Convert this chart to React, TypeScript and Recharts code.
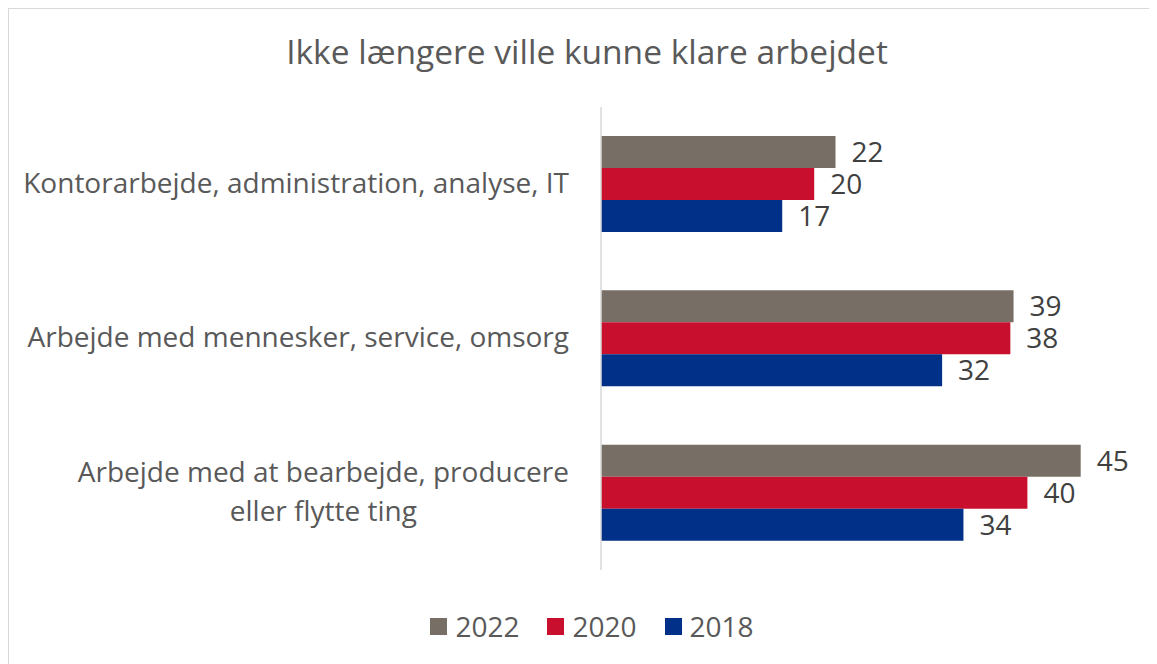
import React, { useLayoutEffect, useRef, useState } from "react";
import { Bar, BarChart, LabelList, XAxis, YAxis } from "recharts";

// categories, top to bottom ("\n" marks where Excel wrapped the label)
const categories = [
	"Kontorarbejde, administration, analyse, IT",
	"Arbejde med mennesker, service, omsorg",
	"Arbejde med at bearbejde, producere\neller flytte ting",
];

// bar lengths; labels show them rounded
const v2022 = [22, 38.7, 45];
const v2020 = [20, 38.4, 40];
const v2018 = [17, 32, 34];

const series = [
	{ key: "2022", values: v2022, color: "#776f65" },
	{ key: "2020", values: v2020, color: "#c8102e" },
	{ key: "2018", values: v2018, color: "#003087" },
];

const data = categories.map((name, i) => {
	const row: any = { name };
	series.forEach((s) => (row[s.key] = s.values[i]));
	return row;
});

const FONT = "'Open Sans', sans-serif";
const TEXT = "#595959";
const FS = 28;

// category label: right aligned block, wrapped lines centred in the block
const CategoryTick = (props: any) => {
	const { x, y, payload } = props;
	const lines: string[] = String(payload.value).split("\n");
	const ref = useRef<SVGTextElement>(null);
	const [w, setW] = useState(0);
	useLayoutEffect(() => {
		if (ref.current) setW(ref.current.getComputedTextLength());
	}, []);
	const lh = 39;
	if (lines.length === 1) {
		return (
			<text x={x} y={y} dy="0.3em" textAnchor="end" fill={TEXT} fontSize={FS} fontFamily={FONT}>
				{lines[0]}
			</text>
		);
	}
	const top = y - ((lines.length - 1) * lh) / 2;
	return (
		<g>
			{lines.map((l, i) => (
				<text
					key={i}
					ref={i === 0 ? ref : undefined}
					x={i === 0 ? x : x - w / 2}
					y={top + i * lh}
					dy="0.3em"
					textAnchor={i === 0 ? "end" : "middle"}
					fill={TEXT}
					fontSize={FS}
					fontFamily={FONT}>
					{l}
				</text>
			))}
		</g>
	);
};

const App = () => {
	return (
		<div
			style={{
				position: "relative",
				width: 1149,
				height: 656,
				overflow: "hidden",
				boxSizing: "border-box",
				borderTop: "1px solid #d9d9d9",
				borderLeft: "1px solid #d9d9d9",
				background: "#fff",
			}}>
			<div
				style={{
					position: "absolute",
					top: 19,
					left: 4,
					width: 1148,
					textAlign: "center",
					fontFamily: FONT,
					fontSize: 33.5,
					color: TEXT,
				}}>
				Ikke længere ville kunne klare arbejdet
			</div>
			<div style={{ position: "absolute", top: 0, left: 0 }}>
				<BarChart
					width={1148}
					height={647}
					data={data}
					layout="vertical"
					barGap={0}
					barCategoryGap={29}
					margin={{ top: 98, right: 23, bottom: 86, left: 0 }}>
					<XAxis type="number" domain={[0, 50]} hide />
					<YAxis
						type="category"
						dataKey="name"
						width={592}
						axisLine={{ stroke: "#d9d9d9", strokeWidth: 1.5 }}
						tickLine={false}
						tickSize={0}
						tickMargin={32}
						tick={<CategoryTick />}
						interval={0}
					/>
					{series.map((s) => (
						<Bar key={s.key} dataKey={s.key} fill={s.color} isAnimationActive={false}>
							<LabelList
								dataKey={s.key}
								position="right"
								offset={16}
								fill="#404040"
								fontSize={FS}
								fontFamily={FONT}
								formatter={(v: any) => Math.round(Number(v))}
							/>
						</Bar>
					))}
				</BarChart>
			</div>
			<div
				style={{
					position: "absolute",
					top: 598,
					left: 9,
					width: 1148,
					display: "flex",
					justifyContent: "center",
					fontFamily: FONT,
					fontSize: FS,
					color: TEXT,
				}}>
				{series.map((s) => (
					<div key={s.key} style={{ display: "flex", alignItems: "center", margin: "0 14px" }}>
						<span style={{ width: 17, height: 17, background: s.color, display: "inline-block", marginRight: 8 }} />
						<span>{s.key}</span>
					</div>
				))}
			</div>
		</div>
	);
};

export default App;
